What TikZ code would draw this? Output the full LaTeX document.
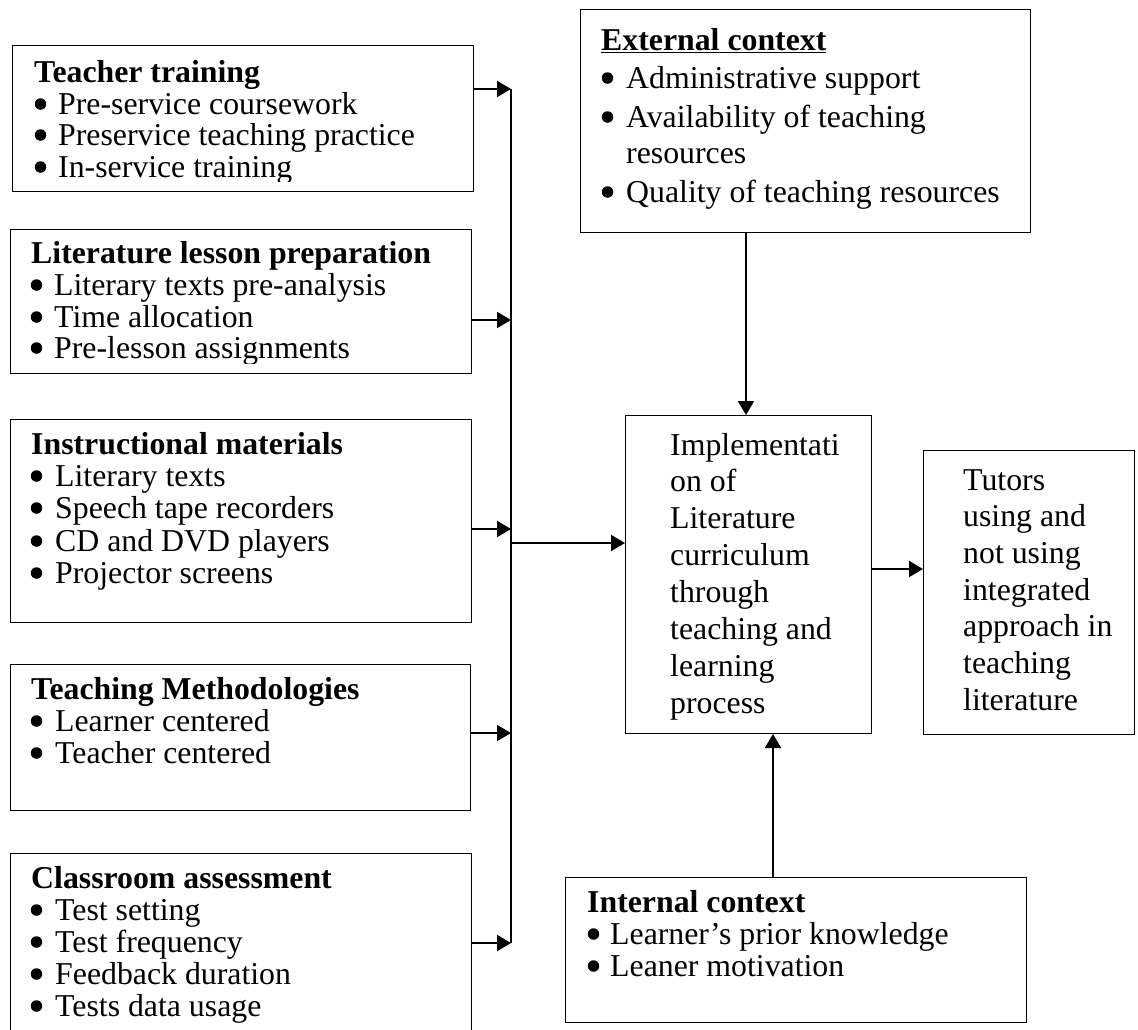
\documentclass[tikz,border=0pt]{standalone}
\usepackage{fontspec}
\setmainfont{Liberation Serif}
\usetikzlibrary{arrows.meta}
\newcommand\bitem[5]{\node[bul] (#1b) at (#2+5.5,#4-10) {}; \node[txt] (#1) at (#3,#4) {#5};}
\begin{document}
\begin{tikzpicture}[x=1pt,y=-1pt,
  box/.style={draw, line width=1pt, inner sep=0pt, anchor=north west},
  txt/.style={anchor=base west, inner sep=0pt, font=\fontsize{31.8pt}{32pt}\selectfont},
  bul/.style={circle, fill=black, inner sep=0pt, minimum size=11.5pt},
  arr/.style={line width=2pt, -{Triangle[length=14pt,width=16pt]}},
  busline/.style={line width=2pt}]
\useasboundingbox (0,0) rectangle (1138,1029);
\fill[white] (0,0) rectangle (1138,1029);
\clip (0,0) rectangle (1138,1029);

% ---------- boxes ----------
\node[box, minimum width=461, minimum height=146] (tt) at (12,45) {};
\node[box, minimum width=461, minimum height=144] (llp) at (10,229) {};
\node[box, minimum width=461, minimum height=203] (im) at (10,419) {};
\node[box, minimum width=460, minimum height=146] (tm) at (10,664) {};
\node[box, minimum width=461, minimum height=220] (ca) at (10,853) {};
\node[box, minimum width=450, minimum height=223] (ext) at (580,9) {};
\node[box, minimum width=246, minimum height=318] (cen) at (625,415) {};
\node[box, minimum width=211, minimum height=284] (tut) at (923,450) {};
\node[box, minimum width=461, minimum height=145] (int) at (565,877) {};

% ---------- Teacher training ----------
\begin{scope}
\clip (0,0) rectangle (480,181);
\node[txt] (ttT) at (34,82) {\textbf{Teacher training}};
\bitem{tt1}{35}{58}{114}{Pre-service coursework}
\bitem{tt2}{35}{58}{145}{Preservice teaching practice}
\bitem{tt3}{35}{58}{177}{In-service training}
\end{scope}

% ---------- Literature lesson preparation ----------
\begin{scope}
\clip (0,200) rectangle (480,363);
\node[txt] (llpT) at (31,263) {\textbf{Literature lesson preparation}};
\bitem{ll1}{31}{54}{295}{Literary texts pre-analysis}
\bitem{ll2}{31}{54}{327}{Time allocation}
\bitem{ll3}{31}{54}{358}{Pre-lesson assignments}
\end{scope}

% ---------- Instructional materials ----------
\node[txt] (imT) at (31,454) {\textbf{Instructional materials}};
\bitem{im1}{31}{55}{486}{Literary texts}
\bitem{im2}{31}{55}{518}{Speech tape recorders}
\bitem{im3}{31}{55}{551}{CD and DVD players}
\bitem{im4}{31}{55}{583}{Projector screens}

% ---------- Teaching Methodologies ----------
\node[txt] (tmT) at (31,699) {\textbf{Teaching Methodologies}};
\bitem{tm1}{31}{55}{731}{Learner centered}
\bitem{tm2}{31}{55}{763}{Teacher centered}

% ---------- Classroom assessment ----------
\node[txt] (caT) at (31,888) {\textbf{Classroom assessment}};
\bitem{ca1}{31}{55}{920}{Test setting}
\bitem{ca2}{31}{55}{952}{Test frequency}
\bitem{ca3}{31}{55}{984}{Feedback duration}
\bitem{ca4}{31}{55}{1016}{Tests data usage}

% ---------- External context ----------
\node[txt] (extT) at (601,50) {\textbf{\underline{External context}}};
\bitem{ex1}{602}{626}{88}{Administrative support}
\bitem{ex2}{602}{626}{127}{Availability of teaching}
\node[txt] (ex2b2) at (626,163) {resources};
\bitem{ex3}{602}{626}{202}{Quality of teaching resources}

% ---------- Implementation ----------
\foreach \t [count=\i from 0] in {Implementati,on of,Literature,curriculum,through,teaching and,learning,process}
  \node[txt] (cen\i) at (670,455+36.86*\i) {\t};

% ---------- Tutors ----------
\foreach \t [count=\i from 0] in {Tutors,using and,not using,integrated,approach in,teaching,literature}
  \node[txt] (tut\i) at (963,490+36.7*\i) {\t};

% ---------- Internal context ----------
\node[txt] (intT) at (587,912) {\textbf{Internal context}};
\bitem{in1}{588}{610}{944}{Learner’s prior knowledge}
\bitem{in2}{588}{610}{976}{Leaner motivation}

% ---------- connectors ----------
\coordinate (b1) at (511,89);
\coordinate (b2) at (511,320);
\coordinate (b3) at (511,529);
\coordinate (b4) at (511,733);
\coordinate (b5) at (511,943);
\coordinate (bm) at (511,543);
\draw[busline] (b1) -- (b5);
\draw[arr] (tt.east |- b1) -- (b1);
\draw[arr] (llp.east |- b2) -- (b2);
\draw[arr] (im.east |- b3) -- (b3);
\draw[arr] (tm.east |- b4) -- (b4);
\draw[arr] (ca.east |- b5) -- (b5);
\draw[arr] (bm) -- (cen.west |- bm);

\coordinate (e1) at (746,300);
\draw[arr] (ext.south -| e1) -- (cen.north -| e1);
\coordinate (t1) at (900,569);
\draw[arr] (cen.east |- t1) -- (tut.west |- t1);
\coordinate (i1) at (773,800);
\draw[arr] (int.north -| i1) -- (cen.south -| i1);
\end{tikzpicture}
\end{document}
